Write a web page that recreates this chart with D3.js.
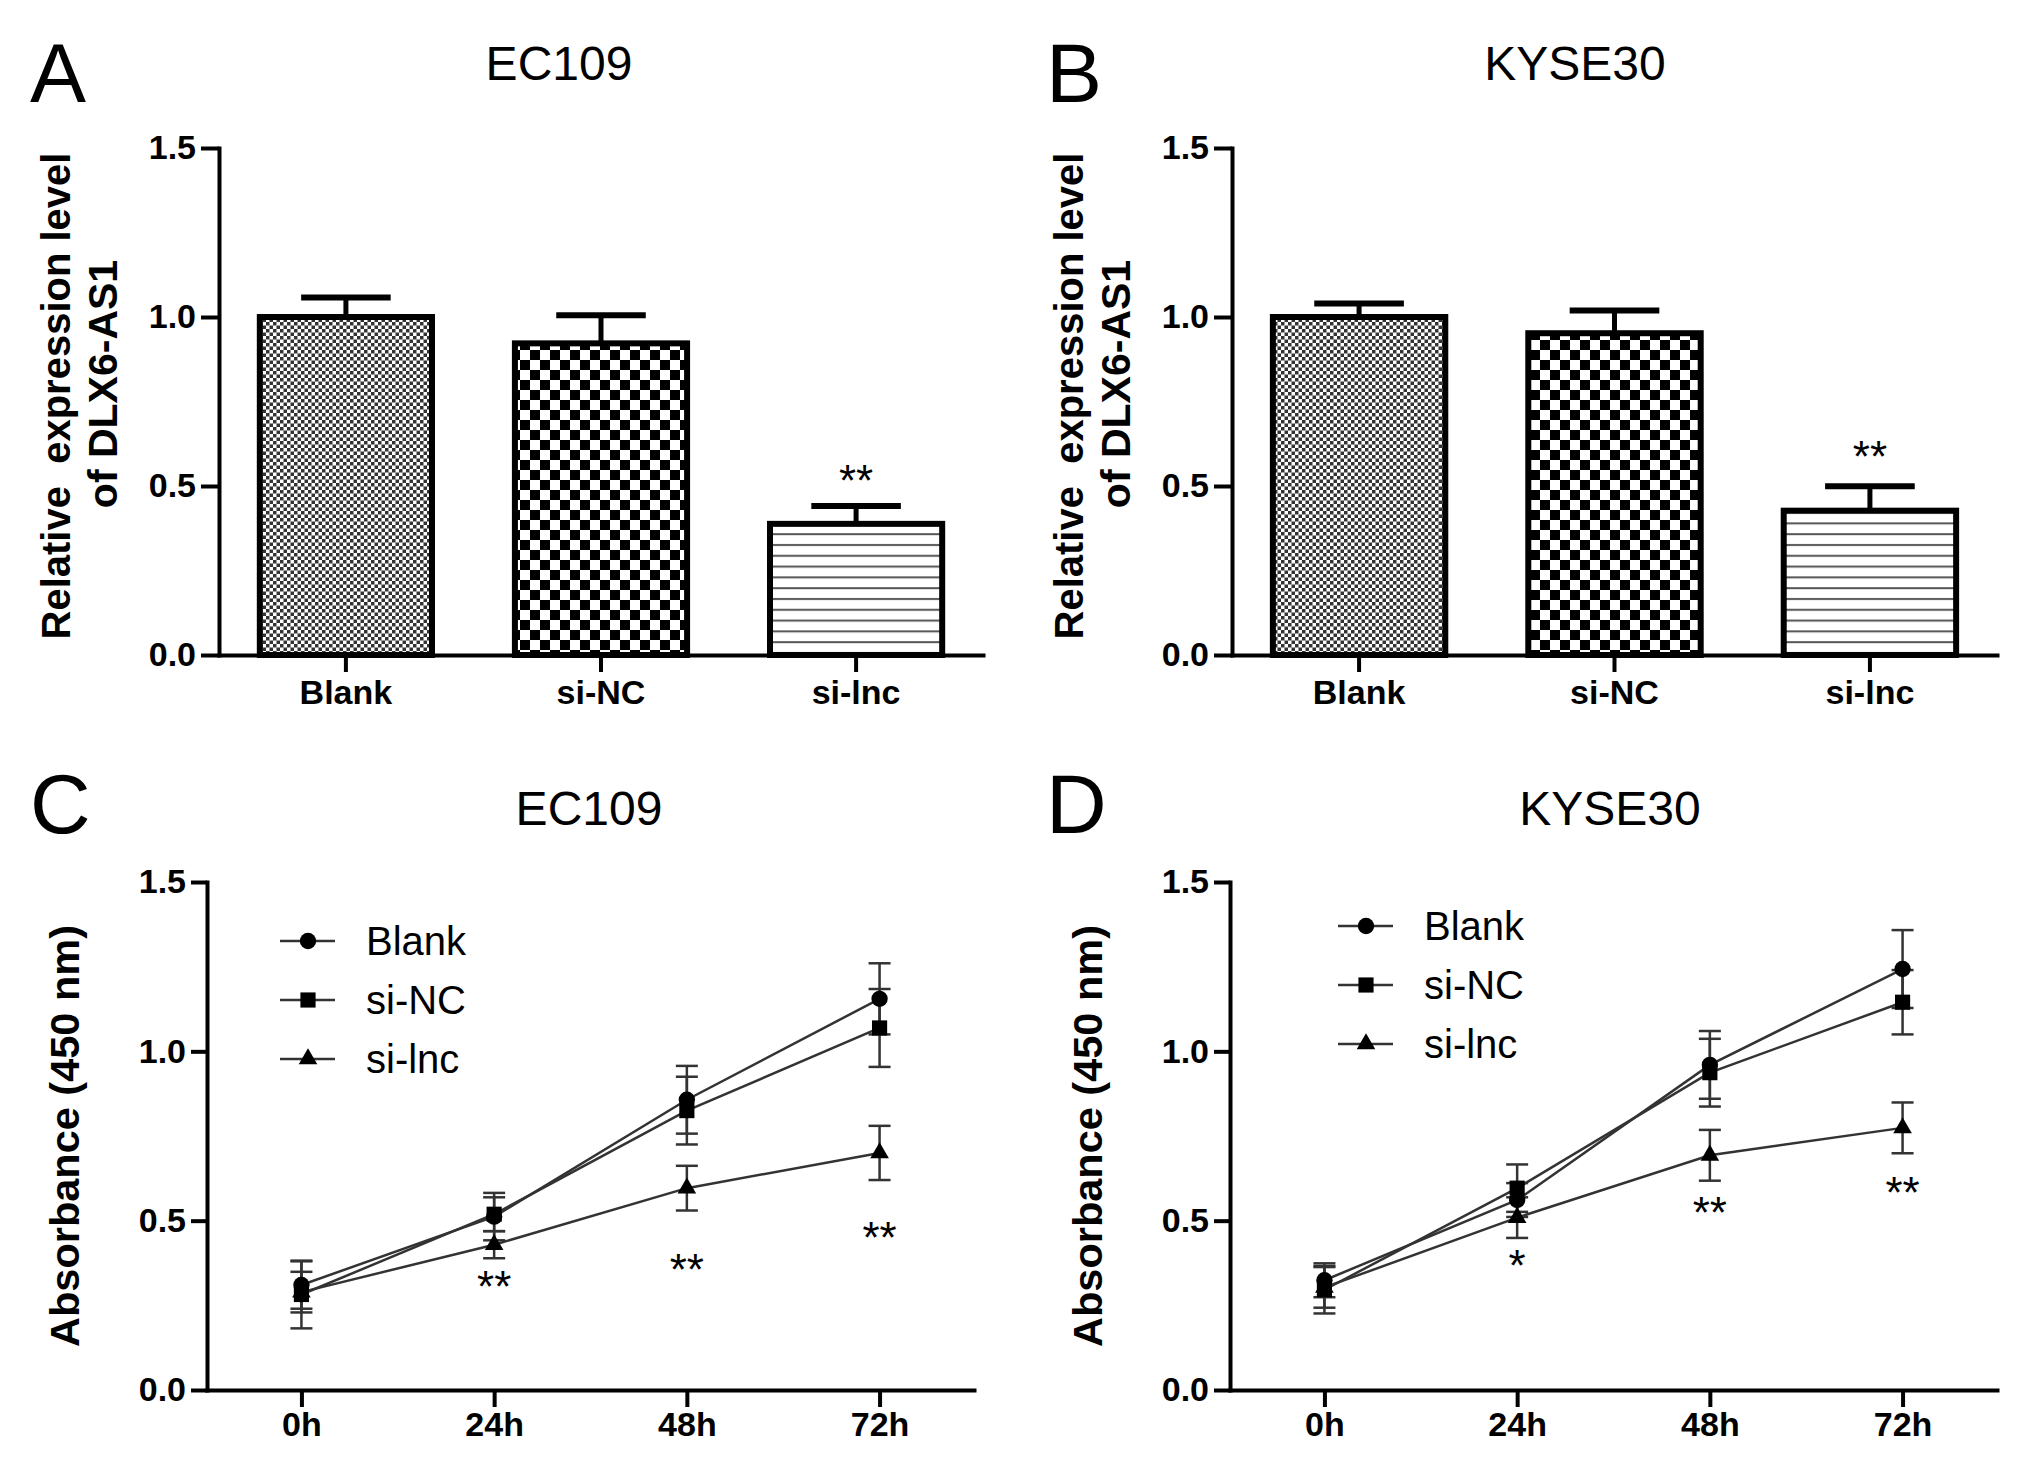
<!DOCTYPE html>
<html>
<head>
<meta charset="utf-8">
<script src="https://cdn.jsdelivr.net/npm/d3@7"></script>
<style>
  body { margin: 0; background: #fff; }
  svg { display: block; }
  text { font-family: "Liberation Sans", Arial, Helvetica, sans-serif; fill: #000; }
</style>
</head>
<body>
<svg id="fig" width="2031" height="1478"></svg>
<script>
// ---- data ----
const groups = ['Blank', 'si-NC', 'si-lnc'];
const expEC109 = [1.00, 0.922, 0.388];
const expEC109Err = [0.058, 0.083, 0.053];
const expKYSE30 = [1.00, 0.952, 0.427];
const expKYSE30Err = [0.040, 0.067, 0.072];
const expSig = ['', '', '**'];
const expSigEC109 = [0, 0, 0.527];   // y of the star marks (data units)
const expSigKYSE30 = [0, 0, 0.597];

const timePoints = ['0h', '24h', '48h', '72h'];
const ec109Blank = [0.310, 0.512, 0.857, 1.155];
const ec109BlankErr = [0.07, 0.07, 0.10, 0.105];
const ec109SiNC = [0.282, 0.519, 0.825, 1.069];
const ec109SiNCErr = [0.10, 0.05, 0.10, 0.115];
const ec109SiLnc = [0.289, 0.429, 0.596, 0.700];
const ec109SiLncErr = [0.06, 0.04, 0.066, 0.08];
const ec109Sig = ['', '**', '**', '**'];
const ec109SigY = [0, 0.310, 0.359, 0.456];

const kyseBlank = [0.324, 0.561, 0.960, 1.243];
const kyseBlankErr = [0.05, 0.05, 0.10, 0.115];
const kyseSiNC = [0.296, 0.596, 0.937, 1.145];
const kyseSiNCErr = [0.07, 0.07, 0.10, 0.095];
const kyseSiLnc = [0.303, 0.509, 0.693, 0.774];
const kyseSiLncErr = [0.06, 0.06, 0.075, 0.075];
const kyseSig = ['', '*', '**', '**'];
const kyseSigY = [0, 0.373, 0.529, 0.589];

const yTicks = [0, 0.5, 1.0, 1.5];

// ---- drawing ----
const svg = d3.select('#fig');
const defs = svg.append('defs');

// fine checker (Blank)
const pFine = defs.append('pattern').attr('id', 'pat-fine')
  .attr('patternUnits', 'userSpaceOnUse').attr('width', 7).attr('height', 7);
pFine.append('rect').attr('width', 7).attr('height', 7).attr('fill', '#fff');
pFine.append('rect').attr('width', 3.5).attr('height', 3.5).attr('fill', '#333');
pFine.append('rect').attr('x', 3.5).attr('y', 3.5).attr('width', 3.5).attr('height', 3.5).attr('fill', '#333');

// coarse checker (si-NC)
const pChk = defs.append('pattern').attr('id', 'pat-check')
  .attr('patternUnits', 'userSpaceOnUse').attr('width', 20).attr('height', 20);
pChk.append('rect').attr('width', 20).attr('height', 20).attr('fill', '#fff');
pChk.append('rect').attr('width', 10).attr('height', 10).attr('fill', '#000');
pChk.append('rect').attr('x', 10).attr('y', 10).attr('width', 10).attr('height', 10).attr('fill', '#000');

// horizontal lines (si-lnc)
const pLin = defs.append('pattern').attr('id', 'pat-lines')
  .attr('patternUnits', 'userSpaceOnUse').attr('width', 10).attr('height', 10.8);
pLin.append('rect').attr('width', 10).attr('height', 10.8).attr('fill', '#fff');
pLin.append('rect').attr('y', 4).attr('width', 10).attr('height', 2).attr('fill', '#555');

const barFills = ['url(#pat-fine)', 'url(#pat-check)', 'url(#pat-lines)'];

function styleAxis(g) {
  g.select('.domain').attr('stroke', '#000').attr('stroke-width', 4).attr('stroke-linecap', 'square');
  g.selectAll('.tick line').attr('stroke', '#000').attr('stroke-width', 4);
  g.selectAll('.tick text').attr('font-size', 34).attr('font-weight', 'bold')
    .style('font-family', '"Liberation Sans", Arial, sans-serif').attr('fill', '#000');
}

function panelLabels(letter, lx, ly, title, tx, ty) {
  svg.append('text').attr('x', lx).attr('y', ly).attr('font-size', 84).text(letter);
  svg.append('text').attr('x', tx).attr('y', ty).attr('font-size', 48)
    .attr('text-anchor', 'middle').text(title);
}

function barPanel(p, values, errs, sigY) {
  const y = d3.scaleLinear().domain([0, 1.5]).range([p.yBot, p.yTop]);
  const x = d3.scaleBand().domain(groups).range([p.x0, p.x1]).paddingInner(0.325).paddingOuter(0.16);
  const g = svg.append('g');

  g.selectAll('rect.bar').data(groups).join('rect').attr('class', 'bar')
    .attr('x', d => x(d)).attr('width', x.bandwidth())
    .attr('y', (d, i) => y(values[i])).attr('height', (d, i) => y(0) - y(values[i]))
    .attr('fill', (d, i) => barFills[i]).attr('stroke', '#000').attr('stroke-width', 6);

  const eb = g.selectAll('g.err').data(groups).join('g').attr('class', 'err');
  eb.append('line')
    .attr('x1', d => x(d) + x.bandwidth() / 2).attr('x2', d => x(d) + x.bandwidth() / 2)
    .attr('y1', (d, i) => y(values[i])).attr('y2', (d, i) => y(values[i] + errs[i]))
    .attr('stroke', '#000').attr('stroke-width', 5);
  eb.append('line')
    .attr('x1', d => x(d) + x.bandwidth() / 2 - x.bandwidth() * 0.26)
    .attr('x2', d => x(d) + x.bandwidth() / 2 + x.bandwidth() * 0.26)
    .attr('y1', (d, i) => y(values[i] + errs[i])).attr('y2', (d, i) => y(values[i] + errs[i]))
    .attr('stroke', '#000').attr('stroke-width', 6);

  g.selectAll('text.sig').data(groups).join('text').attr('class', 'sig')
    .attr('x', d => x(d) + x.bandwidth() / 2)
    .attr('y', (d, i) => y(sigY[i]) + 19)
    .attr('text-anchor', 'middle').attr('font-size', 44)
    .text((d, i) => expSig[i]);

  const ax = svg.append('g').attr('transform', `translate(0,${p.yBot})`)
    .call(d3.axisBottom(x).tickSize(17).tickSizeOuter(0).tickPadding(8));
  styleAxis(ax);
  const ay = svg.append('g').attr('transform', `translate(${p.x0},0)`)
    .call(d3.axisLeft(y).tickValues(yTicks).tickFormat(d3.format('.1f')).tickSize(18).tickSizeOuter(0).tickPadding(5));
  styleAxis(ay);

  // two-line y label
  svg.append('text').attr('transform', `translate(${p.x0 - 149},396) rotate(-90)`)
    .attr('text-anchor', 'middle').attr('font-size', 40).attr('font-weight', 'bold')
    .style('white-space', 'pre').text('Relative  expression level');
  svg.append('text').attr('transform', `translate(${p.x0 - 102},384) rotate(-90)`)
    .attr('text-anchor', 'middle').attr('font-size', 41).attr('font-weight', 'bold')
    .text('of DLX6-AS1');
}

const symbols = [d3.symbolCircle, d3.symbolSquare, d3.symbolTriangle];
const symSize = [210, 230, 150];
const seriesNames = ['Blank', 'si-NC', 'si-lnc'];

function linePanel(p, series, errs, sig, sigY) {
  const y = d3.scaleLinear().domain([0, 1.5]).range([p.yBot, p.yTop]);
  const x = d3.scalePoint().domain(timePoints).range([p.x0, p.x1]).padding(0.49);
  const g = svg.append('g');
  const line = d3.line().x((d, i) => x(timePoints[i])).y(d => y(d));

  series.forEach((vals, s) => {
    g.append('path').attr('d', line(vals)).attr('fill', 'none')
      .attr('stroke', '#333').attr('stroke-width', 2.5);
  });
  series.forEach((vals, s) => {
    const eg = g.append('g');
    vals.forEach((v, i) => {
      const cx = x(timePoints[i]);
      const e = errs[s][i];
      eg.append('line').attr('x1', cx).attr('x2', cx).attr('y1', y(v - e)).attr('y2', y(v + e))
        .attr('stroke', '#333').attr('stroke-width', 2.5);
      [v - e, v + e].forEach(t => eg.append('line')
        .attr('x1', cx - 11).attr('x2', cx + 11).attr('y1', y(t)).attr('y2', y(t))
        .attr('stroke', '#333').attr('stroke-width', 2.5));
    });
  });
  series.forEach((vals, s) => {
    g.selectAll(null).data(vals).join('path')
      .attr('transform', (d, i) => `translate(${x(timePoints[i])},${y(d)})`)
      .attr('d', d3.symbol().type(symbols[s]).size(symSize[s])())
      .attr('fill', '#000');
  });

  g.selectAll('text.sig').data(timePoints).join('text').attr('class', 'sig')
    .attr('x', d => x(d)).attr('y', (d, i) => y(sigY[i]) + 17)
    .attr('text-anchor', 'middle').attr('font-size', 44)
    .text((d, i) => sig[i]);

  // legend
  const lg = svg.append('g');
  seriesNames.forEach((name, s) => {
    const ry = p.legY + s * 59;
    lg.append('line').attr('x1', p.legX).attr('x2', p.legX + 55).attr('y1', ry).attr('y2', ry)
      .attr('stroke', '#333').attr('stroke-width', 2.5);
    lg.append('path').attr('transform', `translate(${p.legX + 28},${ry})`)
      .attr('d', d3.symbol().type(symbols[s]).size(symSize[s])()).attr('fill', '#000');
    lg.append('text').attr('x', p.legX + 86).attr('y', ry + 14).attr('font-size', 40).text(name);
  });

  const ax = svg.append('g').attr('transform', `translate(0,${p.yBot})`)
    .call(d3.axisBottom(x).tickSize(17).tickSizeOuter(0).tickPadding(5));
  styleAxis(ax);
  const ay = svg.append('g').attr('transform', `translate(${p.x0},0)`)
    .call(d3.axisLeft(y).tickValues(yTicks).tickFormat(d3.format('.1f')).tickSize(16).tickSizeOuter(0).tickPadding(5));
  styleAxis(ay);

  svg.append('text').attr('transform', `translate(${p.x0 - 128},1136) rotate(-90)`)
    .attr('text-anchor', 'middle').attr('font-size', 41.5).attr('font-weight', 'bold')
    .text('Absorbance (450 nm)');
}

// panel A
barPanel({ x0: 219, x1: 983, yTop: 148, yBot: 655 }, expEC109, expEC109Err, expSigEC109);
panelLabels('A', 30, 102, 'EC109', 559, 80);
// panel B
barPanel({ x0: 1232, x1: 1997, yTop: 148, yBot: 655 }, expKYSE30, expKYSE30Err, expSigKYSE30);
panelLabels('B', 1046, 102, 'KYSE30', 1575, 80);
// panel C
linePanel({ x0: 207, x1: 974, yTop: 882, yBot: 1390, legX: 280, legY: 941 },
  [ec109Blank, ec109SiNC, ec109SiLnc], [ec109BlankErr, ec109SiNCErr, ec109SiLncErr], ec109Sig, ec109SigY);
panelLabels('C', 30, 833, 'EC109', 589, 825);
// panel D
linePanel({ x0: 1230, x1: 1997, yTop: 882, yBot: 1390, legX: 1338, legY: 926 },
  [kyseBlank, kyseSiNC, kyseSiLnc], [kyseBlankErr, kyseSiNCErr, kyseSiLncErr], kyseSig, kyseSigY);
panelLabels('D', 1046, 833, 'KYSE30', 1610, 825);
</script>
</body>
</html>
